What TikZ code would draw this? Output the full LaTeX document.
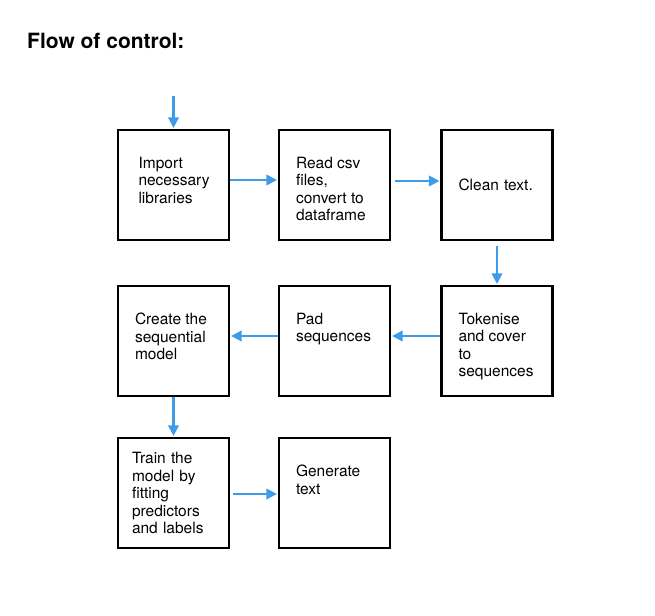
\documentclass[tikz,border=0pt]{standalone}
\usepackage{fontspec}
\setmainfont{TeX Gyre Heros}
\usetikzlibrary{arrows.meta}
\definecolor{flowblue}{RGB}{62,155,235}

\begin{document}
\begin{tikzpicture}[x=1pt,y=1pt]
	\useasboundingbox (0,0) rectangle (655,615);
	\node[anchor=base west, inner sep=0pt, font=\fontsize{21}{25}\selectfont\bfseries] (title) at (27,566) {Flow of control:};

	\begin{scope}[every node/.style={draw, line width=2.2pt, inner sep=0pt, minimum width=111pt, minimum height=110pt, font=\fontsize{15.5}{17.5}\selectfont},
	              topbox/.style={execute at begin node={\begin{minipage}[c][56pt][t]{#1}\raggedright},
	                             execute at end node={\end{minipage}}},
	              topbox/.default=77pt,
	              midbox/.style={text width=#1, align=left},
	              midbox/.default=77pt]
		\node[topbox=70pt] (import) at (173.5,430) {Import\\necessary\\libraries};
		\node[topbox] (readcsv) at (334.5,430) {Read csv\\files,\\convert to\\dataframe};
		\node[midbox] (clean) at (497,430) {Clean text.};
		\node[topbox] (tokenise) at (497,274) {Tokenise\\and cover\\to\\sequences};
		\node[topbox] (pad) at (334.5,274) {Pad\\sequences};
		\node[topbox] (model) at (173.5,274) {Create the\\sequential\\model};
		\node[midbox=83pt] (train) at (173.5,122) {Train the\\model by\\fitting\\predictors\\and labels};
		\node[topbox] (generate) at (334.5,122) {Generate\\text};
	\end{scope}

	\coordinate (start) at (173.5,519);

	\begin{scope}[flowblue, line width=2.1pt, -{Triangle[length=10.5pt,width=10.5pt]}, shorten >=1pt]
		\draw (start) -- (import);
		\draw ([yshift=5pt]import.east) -- ([yshift=5pt]readcsv.west);
		\draw[shorten <=4pt] ([yshift=4pt]readcsv.east) -- ([yshift=4pt]clean.west);
		\draw[shorten <=5pt] (clean) -- (tokenise);
		\draw ([yshift=5pt]tokenise.west) -- ([yshift=5pt]pad.east);
		\draw ([yshift=5pt]pad.west) -- ([yshift=5pt]model.east);
		\draw (model) -- (train);
		\draw[shorten <=3pt] ([yshift=-1pt]train.east) -- ([yshift=-1pt]generate.west);
	\end{scope}
\end{tikzpicture}
\end{document}
